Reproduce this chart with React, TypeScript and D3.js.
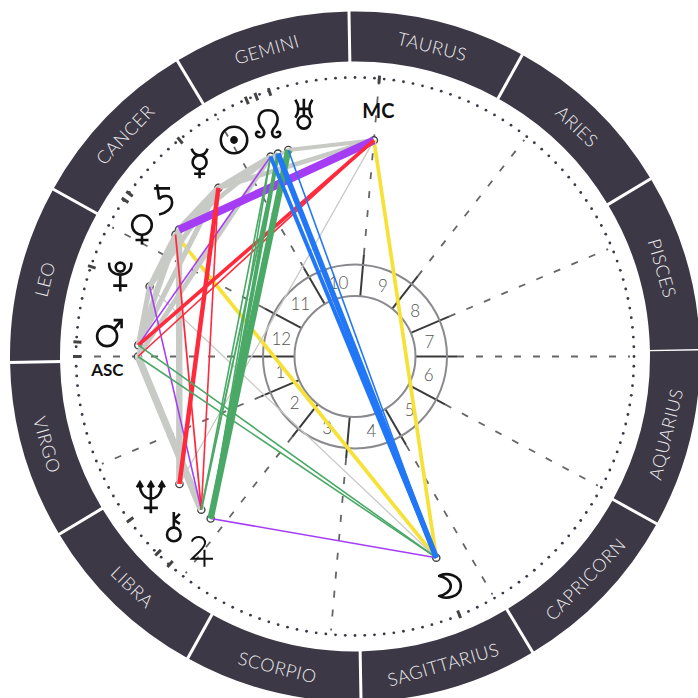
import React from 'react';
import * as d3 from 'd3';

// Chart values, angles in degrees counterclockwise from east
const signNames = ['PISCES', 'ARIES', 'TAURUS', 'GEMINI', 'CANCER', 'LEO', 'VIRGO', 'LIBRA', 'SCORPIO', 'SAGITTARIUS', 'CAPRICORN', 'AQUARIUS'];
const firstSignStart = 1;
const houseCusps = [180, 203, 232, 265, 300, 332, 360, 383, 412, 445, 480, 512];
const houseNumbers = ['1', '2', '3', '4', '5', '6', '7', '8', '9', '10', '11', '12'];

const bodyNames = ['MC', 'ASC', 'Mars', 'Pluto', 'Venus', 'Saturn', 'Mercury', 'Sun', 'Node', 'Uranus', 'Moon', 'Neptune', 'Chiron', 'Jupiter'];
const bodyAngles = [85, 180, 177, 161.2, 145.8, 144.2, 129, 112.9, 110.8, 107.9, -68, 216, 224.9, 228.3];
const labelAngles = [84.6, 183, 174.6, 161.2, 149.2, 140.7, 128.8, 119.2, 110.5, 101.9, -67.7, 214.6, 223.4, 231.9];

// aspect lists: [from, to, strength]
const grayAspects: [string, string, number][] = [
  ['MC', 'Uranus', 2.5], ['MC', 'Mercury', 3],
  ['Uranus', 'Mercury', 2], ['Node', 'Mercury', 2.5], ['Sun', 'Mercury', 3.2],
  ['Sun', 'Saturn', 3], ['Sun', 'ASC', 3], ['Mercury', 'Saturn', 3.8], ['Mercury', 'Venus', 2.8],
  ['Mercury', 'Pluto', 3.2], ['Mercury', 'Mars', 3.2], ['Saturn', 'Pluto', 2.8], ['Venus', 'Pluto', 3.2],
  ['Saturn', 'Mars', 3.2], ['Venus', 'Mars', 3.2], ['Pluto', 'Mars', 3.2], ['Pluto', 'ASC', 2],
  ['Saturn', 'Neptune', 4], ['ASC', 'Chiron', 4.5],
  ['Pluto', 'Moon', 0.8], ['Neptune', 'MC', 0.8],
];
const purpleAspects: [string, string, number][] = [
  ['Saturn', 'MC', 5], ['Sun', 'Mars', 1], ['Pluto', 'Chiron', 1], ['Jupiter', 'Moon', 1],
];
const redAspects: [string, string, number][] = [
  ['Mars', 'MC', 2.3], ['ASC', 'MC', 1], ['Mercury', 'Neptune', 2.8], ['Venus', 'Chiron', 1.1], ['Mercury', 'Chiron', 1],
];
const greenAspects: [string, string, number][] = [
  ['Sun', 'Chiron', 1], ['Sun', 'Jupiter', 1], ['Node', 'Chiron', 1.2], ['Node', 'Jupiter', 2.5],
  ['Uranus', 'Jupiter', 4], ['Mars', 'Moon', 1], ['ASC', 'Moon', 1],
];
const blueAspects: [string, string, number][] = [
  ['Sun', 'Moon', 2.5], ['Node', 'Moon', 3.5], ['Uranus', 'Moon', 1],
];
const yellowAspects: [string, string, number][] = [
  ['MC', 'Moon', 2.3], ['Venus', 'Moon', 2.3],
];

const SIZE = 698;
const cx = 355;
const cy = 356.5;
const INK = '#111';

const rad = (deg: number) => (deg * Math.PI) / 180;
const polar = (deg: number, r: number): [number, number] => [cx + r * Math.cos(rad(deg)), cy - r * Math.sin(rad(deg))];
const sizeScale = d3.scaleLinear().domain([0, 5]).range([0, 8]);
const ringArc = d3.arc();
const bodyAngle = (name: string) => bodyAngles[bodyNames.indexOf(name)];

// stroke icons for the astrological bodies
const glyphs: Record<string, React.ReactNode> = {
  Uranus: (
    <>
      <circle cx={0} cy={8.5} r={6.3} />
      <path d="M0,-15V2M-7,-5H7M-8.5,-14Q-2.5,-5 -8.5,4M8.5,-14Q2.5,-5 8.5,4" />
    </>
  ),
  Node: <path d="M-5,5C-12,-2 -11,-14 0,-14C11,-14 12,-2 5,5C3,8 4,13 8,13C11,13 12.5,11 12,9C11.5,7 9,7 8.5,9M-5,5C-3,8 -4,13 -8,13C-11,13 -12.5,11 -12,9C-11.5,7 -9,7 -8.5,9" />,
  Sun: (
    <>
      <circle cx={0} cy={0} r={13.2} />
      <circle cx={0} cy={0} r={2.6} fill={INK} />
    </>
  ),
  Mercury: (
    <>
      <circle cx={0} cy={-1} r={7} />
      <path d="M0,6V15M-5.5,10.5H5.5M-8,-14.5Q-6,-8 0,-8Q6,-8 8,-14.5" />
    </>
  ),
  Saturn: <path d="M-6,-15L-4,0M-9,-11H7M-4,0C-1,-5 9,-5 9,3C9,9 3,14 -4,15" />,
  Venus: (
    <>
      <circle cx={0} cy={-4.5} r={9.8} />
      <path d="M0,5.5V15M-6.5,10.5H6.5" />
    </>
  ),
  Pluto: (
    <>
      <circle cx={0} cy={-9.5} r={4.5} />
      <path d="M-11,-14C-13,2 13,2 11,-14M0,-2V15M-7,9H7" />
    </>
  ),
  Mars: (
    <>
      <circle cx={-1} cy={3} r={10} />
      <path d="M6,-4L13,-12.5M5.5,-13H13.5V-5" />
    </>
  ),
  Neptune: <path d="M-11,-13C-11,6 11,6 11,-13M0,-14V16M-7,10.5H7M-14,-10L-11,-15L-8,-10M-3,-10L0,-15L3,-10M8,-10L11,-15L14,-10" />,
  Chiron: (
    <>
      <circle cx={-1} cy={7.5} r={6.8} />
      <path d="M-1,0.5V-15M-1,-7L5,-13M-1,-7L5,-3" />
    </>
  ),
  Jupiter: <path d="M-10,-10C-9,-16 4,-17 3,-8C2,-3 -5,2 -10,7H11M2.5,-2V15" strokeWidth={2} />,
  Moon: <path d="M-10,-10C-3,-14 11.7,-11 11.7,0C11.7,11 -3,14 -10,10C-4,9 1.7,5 1.7,0C1.7,-5 -4,-9 -10,-10Z" strokeLinejoin="round" />,
};

const AspectLines = ({ list, color }: { list: [string, string, number][]; color: string }) => (
  <g stroke={color} strokeLinecap="butt">
    {list.map(([a, b, strength]) => {
      const [x1, y1] = polar(bodyAngle(a), 217);
      const [x2, y2] = polar(bodyAngle(b), 217);
      return <line key={a + b} x1={x1} y1={y1} x2={x2} y2={y2} strokeWidth={sizeScale(strength)} />;
    })}
  </g>
);

const App = () => {
  const signAngles = signNames.map((_, i) => firstSignStart + i * 30);
  const dots = d3.range(0, 360, 2);

  return (
    <svg width={SIZE} height={SIZE} viewBox={`0 0 ${SIZE} ${SIZE}`} style={{ position: 'absolute', left: 0, top: 0, background: '#fff' }}>
      {/* zodiac ring */}
      <g>
        {signNames.map((name, i) => {
          const start = signAngles[i];
          const mid = start + 15;
          const d = ringArc({
            innerRadius: 295,
            outerRadius: 345,
            startAngle: rad(90 - start - 30),
            endAngle: rad(90 - start),
          } as any);
          const [tx, ty] = polar(mid, 320);
          const upper = Math.sin(rad(mid)) > 0;
          const rot = upper ? 90 - mid : 270 - mid;
          const [lx1, ly1] = polar(start, 293);
          const [lx2, ly2] = polar(start, 347);
          return (
            <g key={name}>
              <path d={d as string} transform={`translate(${cx},${cy})`} fill="#3d3846" />
              <line x1={lx1} y1={ly1} x2={lx2} y2={ly2} stroke="#fff" strokeWidth={3} />
              <text
                x={tx}
                y={ty}
                transform={`rotate(${rot} ${tx} ${ty})`}
                textAnchor="middle"
                dominantBaseline="central"
                fontFamily="Lato"
                fontWeight={300}
                fontSize={18}
                letterSpacing={0.6}
                fill="#ececee"
              >
                {name}
              </text>
            </g>
          );
        })}
      </g>

      {/* degree dots */}
      <g fill="#3d3846">
        {dots.map((deg) => {
          const [x, y] = polar(deg, 279);
          return <circle key={deg} cx={x} cy={y} r={1.4} />;
        })}
      </g>

      {/* house cusps, dashed out towards the dots */}
      {houseCusps.map((deg) => {
        const [x1, y1] = polar(deg, 60);
        const [x2, y2] = polar(deg, 102);
        const [x3, y3] = polar(deg, 275);
        return (
          <g key={deg}>
            <line x1={x2} y1={y2} x2={x3} y2={y3} stroke="#666" strokeWidth={1.8} strokeDasharray="7 12" />
            <line x1={x1} y1={y1} x2={x2} y2={y2} stroke="#3b3b3b" strokeWidth={2} />
          </g>
        );
      })}
      <circle cx={cx} cy={cy} r={60.5} fill="none" stroke="#8a8a8e" strokeWidth={2} />
      <circle cx={cx} cy={cy} r={92} fill="none" stroke="#8a8a8e" strokeWidth={2} />
      {houseNumbers.map((label, i) => {
        const mid = (houseCusps[i] + houseCusps[(i + 1) % 12] + (i === 11 ? 360 : 0)) / 2;
        const [x, y] = polar(mid, 76);
        return (
          <text key={label} x={x} y={y} textAnchor="middle" dominantBaseline="central" fontFamily="Lato" fontWeight={300} fontSize={17} fill="#555">
            {label}
          </text>
        );
      })}

      {/* position ticks on the dotted ring */}
      {bodyAngles.map((deg, i) => {
        const [x1, y1] = polar(deg, 274);
        const [x2, y2] = polar(deg, 282);
        return <line key={bodyNames[i]} x1={x1} y1={y1} x2={x2} y2={y2} stroke="#444" strokeWidth={3} />;
      })}

      {/* body markers */}
      {bodyAngles.map((deg, i) => {
        const [x, y] = polar(deg, 217);
        return <circle key={bodyNames[i]} cx={x} cy={y} r={3.6} fill="#fff" stroke="#444" strokeWidth={1.4} />;
      })}

      <AspectLines list={yellowAspects} color="#f6e136" />
      <AspectLines list={grayAspects} color="#c8cac6" />
      <AspectLines list={purpleAspects} color="#a53df5" />
      <AspectLines list={redAspects} color="#ff2a3c" />
      <AspectLines list={greenAspects} color="#4aa966" />
      <AspectLines list={blueAspects} color="#2277f6" />

      {/* glyphs and angle labels */}
      {bodyNames.map((name, i) => {
        const [x, y] = polar(labelAngles[i], 248);
        if (name === 'MC' || name === 'ASC') {
          return (
            <text key={name} x={x} y={y} textAnchor="middle" dominantBaseline="central" fontFamily="Lato" fontWeight={700} fontSize={name === 'MC' ? 20 : 17} fill={INK}>
              {name}
            </text>
          );
        }
        return (
          <g key={name} transform={`translate(${x},${y})`} fill="none" stroke={INK} strokeWidth={2.6}>
            {glyphs[name]}
          </g>
        );
      })}
    </svg>
  );
};

export default App;
